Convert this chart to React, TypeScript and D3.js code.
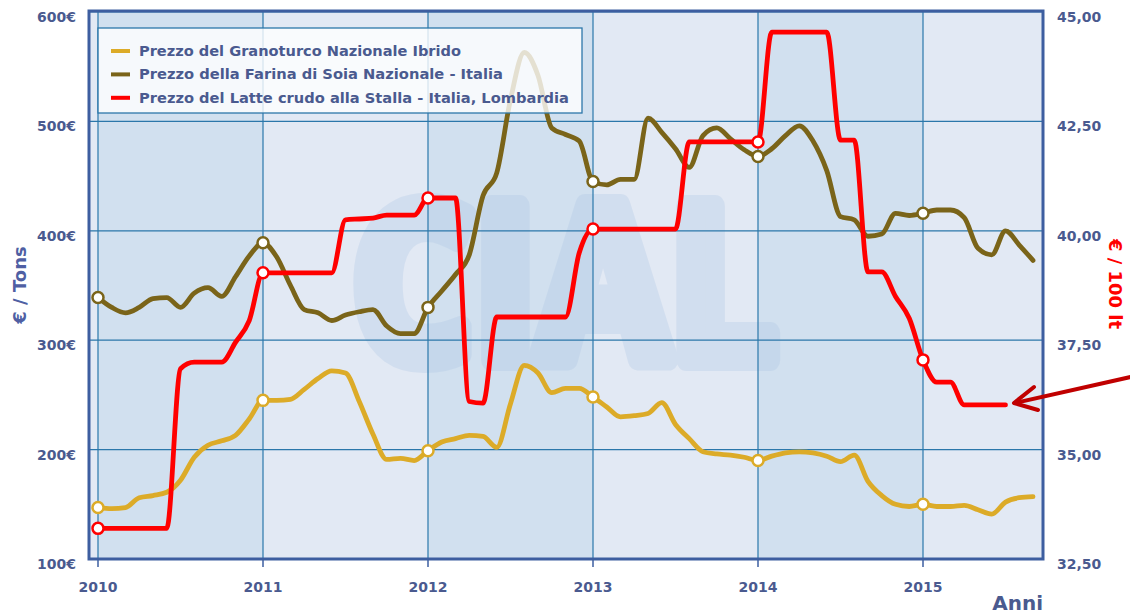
import React from "react";
import * as d3 from "d3";

// Monthly values, Jan 2010 .. Sep 2015
const startYear = 2010;
const corn = [
  147, 146, 147, 156, 158, 161, 172, 193, 204, 208, 213, 228,
  245, 245, 246, 255, 265, 272, 270, 244, 214, 191, 192, 190,
  199, 207, 210, 213, 212, 202, 242, 277, 270, 252, 256, 256,
  248, 239, 230, 231, 233, 243, 223, 210, 198, 196, 195, 193,
  190, 194, 197, 198, 197, 194, 189, 195, 171, 158, 150, 148,
  150, 148, 148, 149, 145, 141, 152, 156, 157,
];
const soy = [
  339, 330, 325, 330, 338, 339, 330, 343, 348, 340, 358, 377,
  389, 376, 350, 328, 325, 318, 323, 326, 328, 313, 306, 306,
  330, 345, 360, 378, 432, 453, 520, 563, 542, 494, 488, 482,
  445, 442, 447, 447, 503, 490, 475, 458, 487, 494, 484, 474,
  468, 475, 487, 496, 482, 455, 413, 410, 395, 397, 416, 414,
  416, 419, 419, 412, 384, 378, 400, 387, 373,
];
const milk = [
  33.2, 33.2, 33.2, 33.2, 33.2, 33.2, 36.85, 37.0, 37.0, 37.0, 37.45, 37.95,
  39.04, 39.04, 39.04, 39.04, 39.04, 39.04, 40.25, 40.27, 40.29, 40.36, 40.36, 40.36,
  40.75, 40.75, 40.75, 36.1, 36.06, 38.03, 38.03, 38.03, 38.03, 38.03, 38.03, 39.5,
  40.04, 40.04, 40.04, 40.04, 40.04, 40.04, 40.04, 42.03, 42.03, 42.03, 42.03, 42.03,
  42.03, 44.54, 44.54, 44.54, 44.54, 44.54, 42.07, 42.07, 39.06, 39.06, 38.5, 38.0,
  37.05, 36.54, 36.54, 36.02, 36.02, 36.02, 36.02,
];
const years = [2010, 2011, 2012, 2013, 2014, 2015];
const leftTicks = [100, 200, 300, 400, 500, 600];
const rightTicks = [32.5, 35, 37.5, 40, 42.5, 45];
const legendLabels = [
  "Prezzo del Granoturco Nazionale Ibrido",
  "Prezzo della Farina di Soia Nazionale - Italia",
  "Prezzo del Latte crudo alla Stalla - Italia, Lombardia",
];
const legendWidths = [322, 364, 430];
const colors = ["#dcab28", "#7a6419", "#ff0000"];

const W = 1130;
const H = 615;
const plotL = 89;
const plotR = 1043;
const plotT = 11;
const plotB = 559;

const x = d3.scaleLinear().domain([2010, 2015]).range([98, 923]);
const yL = d3.scaleLinear().domain([100, 600]).range([plotB, 12]);
const yR = d3.scaleLinear().domain([32.5, 45]).range([plotB, 12]);

const textColor = "#4a5a8f";
const gridColor = "#2b77aa";
const borderColor = "#3d5ea0";
const darkBand = "#d1e0ef";
const lightBand = "#e2e9f4";

function monthX(i: number) {
  return x(startYear + i / 12);
}

export default function App() {
  const lineL = d3
    .line<number>()
    .x((_, i) => monthX(i))
    .y((v) => yL(v))
    .curve(d3.curveMonotoneX);
  const lineR = d3
    .line<number>()
    .x((_, i) => monthX(i))
    .y((v) => yR(v))
    .curve(d3.curveMonotoneX);

  const series = [
    { data: corn, path: lineL(corn), scale: yL, color: colors[0] },
    { data: soy, path: lineL(soy), scale: yL, color: colors[1] },
    { data: milk, path: lineR(milk), scale: yR, color: colors[2] },
  ];

  const fmtR = (v: number) => v.toFixed(2).replace(".", ",");

  return (
    <svg
      width={W}
      height={H}
      style={{ position: "absolute", left: 0, top: 0, display: "block", background: "#fff" }}
      fontFamily="'DejaVu Sans', Verdana, sans-serif"
    >
      {/* background bands */}
      <rect x={plotL} y={plotT} width={plotR - plotL} height={plotB - plotT} fill={lightBand} />
      {years.map((yr, k) => {
        const x0 = x(yr);
        const x1 = Math.min(x(yr + 1), plotR);
        return (
          <rect
            key={yr}
            x={x0}
            y={plotT}
            width={x1 - x0}
            height={plotB - plotT}
            fill={k % 2 === 0 ? darkBand : lightBand}
          />
        );
      })}
      {/* watermark */}
      <g opacity={0.28}>
        <text
          x={352}
          y={360}
          fontSize={215}
          fontWeight="bold"
          fontFamily="'Open Sans', 'DejaVu Sans', sans-serif"
          fill="#a9c3e3"
          stroke="#a9c3e3"
          strokeWidth={22}
          strokeLinejoin="round"
          textLength={425}
          lengthAdjust="spacingAndGlyphs"
        >
          CIAL
        </text>
      </g>
      {/* grid */}
      {leftTicks.map((t) => (
        <line key={t} x1={plotL} x2={plotR} y1={yL(t)} y2={yL(t)} stroke={gridColor} strokeWidth={1.2} />
      ))}
      {years.map((yr) => (
        <line key={yr} x1={x(yr)} x2={x(yr)} y1={plotT} y2={plotB} stroke={gridColor} strokeWidth={1.2} />
      ))}
      {/* lines */}
      {series.map((s, k) => (
        <g key={k}>
          <path d={s.path || ""} fill="none" stroke={s.color} strokeWidth={4.8} strokeLinejoin="round" strokeLinecap="round" />
          {years.map((yr) => {
            const i = (yr - startYear) * 12;
            if (i >= s.data.length) return null;
            return (
              <circle
                key={yr}
                cx={monthX(i)}
                cy={s.scale(s.data[i])}
                r={5.5}
                fill="#fff"
                stroke={s.color}
                strokeWidth={2.5}
              />
            );
          })}
        </g>
      ))}
      {/* legend */}
      <rect x={98} y={28} width={484} height={85} fill="#ffffff" fillOpacity={0.8} stroke={gridColor} strokeWidth={1.3} />
      {legendLabels.map((lab, k) => (
        <g key={k}>
          <line x1={111} x2={130} y1={51 + k * 23.4} y2={51 + k * 23.4} stroke={colors[k]} strokeWidth={4} />
          <text
            x={139}
            y={51 + k * 23.4 + 5}
            fontSize={14}
            fontWeight="bold"
            fill={textColor}
            textLength={legendWidths[k]}
            lengthAdjust="spacingAndGlyphs"
          >
            {lab}
          </text>
        </g>
      ))}
      {/* border */}
      <rect x={plotL} y={plotT} width={plotR - plotL} height={plotB - plotT} fill="none" stroke={borderColor} strokeWidth={3} />
      {/* x ticks */}
      {years.map((yr) => (
        <g key={yr}>
          <line x1={x(yr)} x2={x(yr)} y1={plotB} y2={plotB + 8} stroke={borderColor} strokeWidth={1.5} />
          <text x={x(yr)} y={592} textAnchor="middle" fontSize={14} fontWeight="bold" fill={textColor}>
            {yr}
          </text>
        </g>
      ))}
      {/* left ticks */}
      {leftTicks.map((t) => (
        <text key={t} x={76} y={yL(t) + 10} textAnchor="end" fontSize={14} fontWeight="bold" fill={textColor}>
          {t}€
        </text>
      ))}
      {/* right ticks */}
      {rightTicks.map((t) => (
        <text key={t} x={1057} y={yR(t) + 10} textAnchor="start" fontSize={14} fontWeight="bold" fill={textColor}>
          {fmtR(t)}
        </text>
      ))}
      {/* axis titles */}
      <text
        transform={`translate(26,285) rotate(-90)`}
        textAnchor="middle"
        fontSize={18}
        fontWeight="bold"
        fill="#4f5fa3"
      >
        € / Tons
      </text>
      <text
        transform={`translate(1109,284) rotate(90)`}
        textAnchor="middle"
        fontSize={18}
        fontWeight="bold"
        fill="#ff0000"
      >
        € / 100 lt
      </text>
      <text x={1043} y={610} textAnchor="end" fontSize={20} fontWeight="bold" fill={textColor}>
        Anni
      </text>
      {/* arrow */}
      <g stroke="#c00000" strokeWidth={4} fill="none" strokeLinecap="round" strokeLinejoin="round">
        <line x1={1135} x2={1015} y1={376} y2={403} />
        <polyline points="1034,387 1014,403 1038,410" />
      </g>
    </svg>
  );
}
